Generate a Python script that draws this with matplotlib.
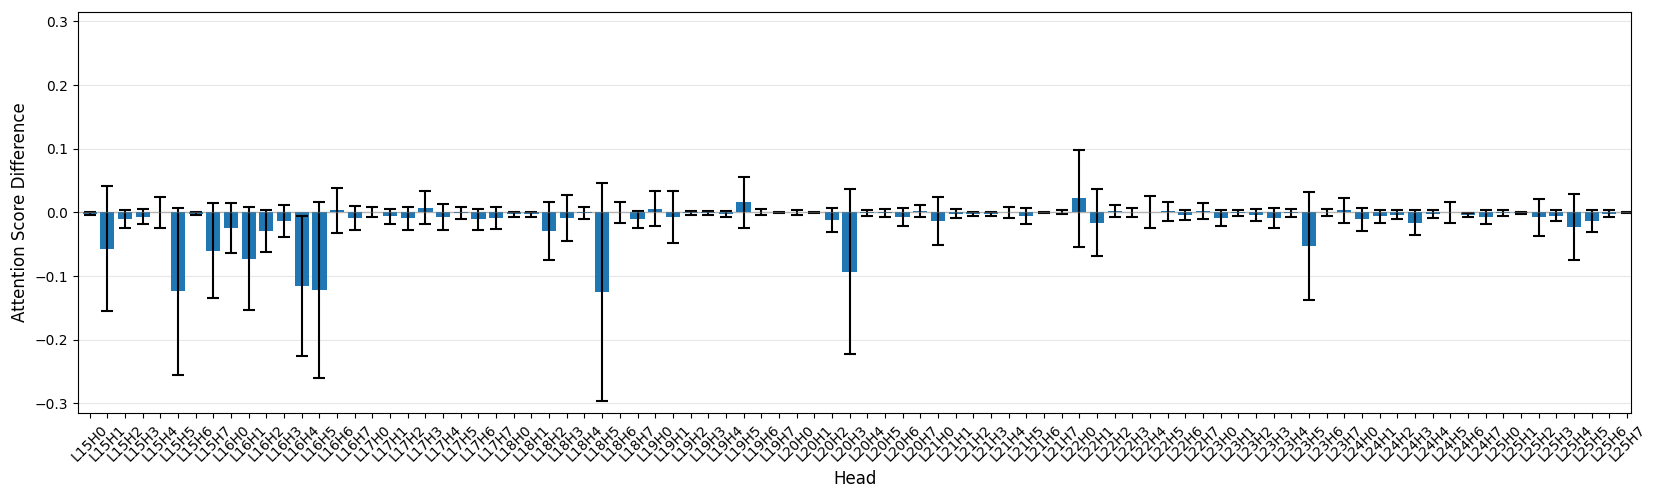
import numpy as np
import matplotlib
matplotlib.use("Agg")
from matplotlib import pyplot as plt

# 头的名字：L15-L25，每层 8 个头
layers = list(range(15, 26))
heads = ["L%dH%d" % (l, h) for l in layers for h in range(8)]

# 均值（从图上读的）
means = [
    -0.002, -0.057, -0.011, -0.007, 0.000, -0.124, -0.002, -0.060,   # L15
    -0.025, -0.073, -0.030, -0.014, -0.115, -0.122, 0.003, -0.009,   # L16
    0.001, -0.006, -0.009, 0.007, -0.007, -0.001, -0.011, -0.009,    # L17
    -0.003, -0.003, -0.029, -0.009, -0.001, -0.125, 0.000, -0.011,   # L18
    0.006, -0.007, -0.001, -0.001, -0.003, 0.016, 0.001, 0.000,      # L19
    0.000, 0.000, -0.012, -0.093, -0.001, -0.001, -0.007, 0.002,     # L20
    -0.014, -0.002, -0.002, -0.002, 0.000, -0.006, 0.000, 0.000,     # L21
    0.022, -0.016, 0.002, 0.000, 0.000, 0.002, -0.004, 0.002,        # L22
    -0.009, -0.001, -0.004, -0.009, -0.001, -0.053, 0.000, 0.003,    # L23
    -0.011, -0.006, -0.004, -0.016, -0.003, 0.000, -0.004, -0.007,   # L24
    -0.001, -0.001, -0.008, -0.005, -0.023, -0.014, -0.002, 0.000,   # L25
]

# 误差（标准差）
errs = [
    0.002, 0.098, 0.014, 0.012, 0.024, 0.131, 0.002, 0.074,
    0.039, 0.081, 0.033, 0.025, 0.110, 0.139, 0.035, 0.019,
    0.008, 0.012, 0.018, 0.026, 0.020, 0.010, 0.016, 0.017,
    0.004, 0.004, 0.046, 0.036, 0.010, 0.171, 0.016, 0.013,
    0.027, 0.041, 0.003, 0.003, 0.005, 0.040, 0.005, 0.001,
    0.004, 0.001, 0.019, 0.130, 0.004, 0.006, 0.014, 0.009,
    0.038, 0.007, 0.003, 0.003, 0.009, 0.013, 0.001, 0.003,
    0.076, 0.053, 0.010, 0.007, 0.025, 0.015, 0.008, 0.012,
    0.013, 0.004, 0.010, 0.016, 0.007, 0.085, 0.006, 0.019,
    0.018, 0.010, 0.007, 0.020, 0.006, 0.016, 0.003, 0.011,
    0.005, 0.002, 0.029, 0.009, 0.052, 0.017, 0.005, 0.001,
]

x = np.arange(len(heads))

fig = plt.figure(figsize=(16.61, 4.98), dpi=100)
ax = fig.add_axes([0.047, 0.171, 0.935, 0.805])

# 柱子 + 误差棒
ax.bar(x, means, width=0.8, color="#1f77b4", yerr=errs, capsize=4,
       error_kw={"elinewidth": 1.5, "capthick": 1.5, "ecolor": "black"})
# 零线
ax.axhline(0, color="gray", linewidth=1, alpha=0.5)
ax.grid(axis="y", alpha=0.3)
ax.set_axisbelow(True)

ax.set_xticks(x)
ax.set_xticklabels(heads, rotation=45, fontsize=10)
ax.tick_params(axis="y", labelsize=10)
ax.set_xlim(-0.66, 87.23)
ax.set_ylim(-0.315, 0.315)
ax.set_xlabel("Head", fontsize=12)
ax.set_ylabel("Attention Score Difference", fontsize=12)

plt.savefig("out.png", dpi=100)
